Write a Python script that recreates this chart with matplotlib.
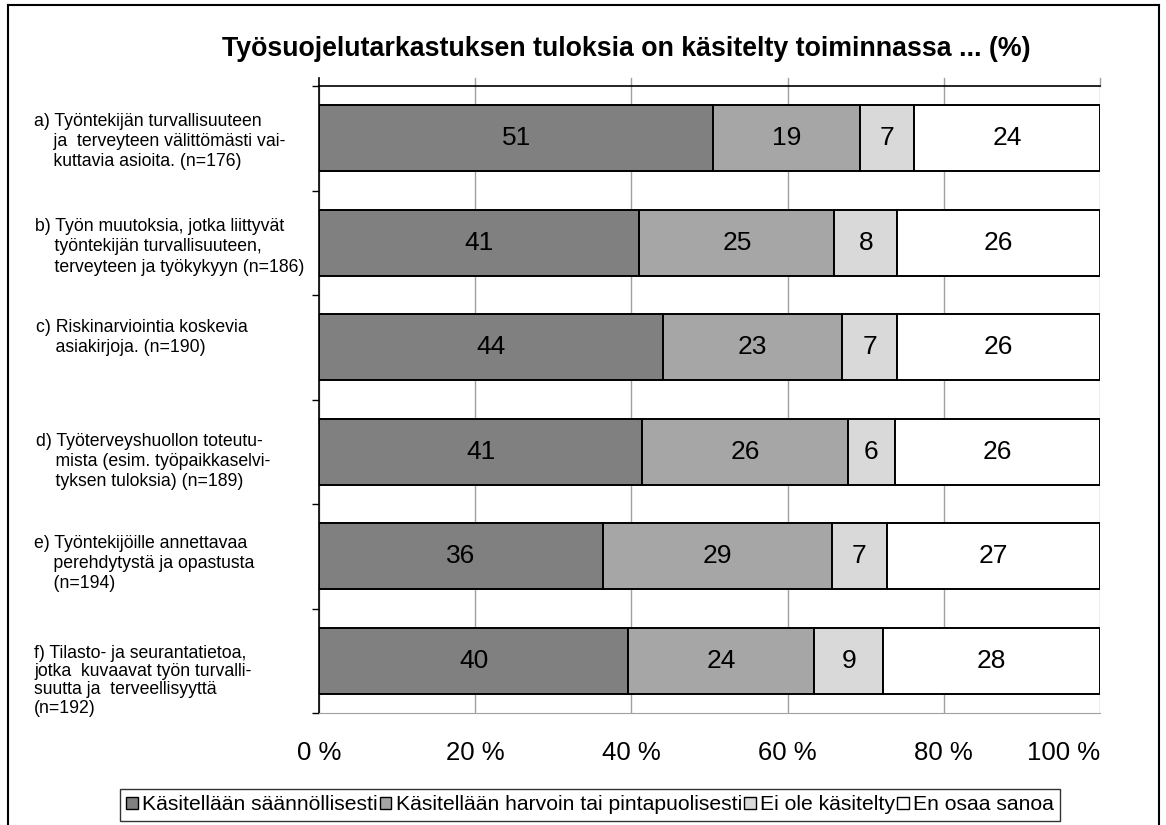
import numpy as np
import matplotlib
matplotlib.use("Agg")
import matplotlib.pyplot as plt
from matplotlib.patches import Patch
from matplotlib.lines import Line2D
from matplotlib.transforms import blended_transform_factory, offset_copy

plt.rcParams['font.family'] = ['Liberation Sans', 'DejaVu Sans']

# Data (%)
categories = [
    "a) Työntekijän turvallisuuteen\n    ja  terveyteen välittömästi vai-\n    kuttavia asioita. (n=176)",
    "b) Työn muutoksia, jotka liittyvät\n    työntekijän turvallisuuteen,\n    terveyteen ja työkykyyn (n=186)",
    "c) Riskinarviointia koskevia\n    asiakirjoja. (n=190)",
    "d) Työterveyshuollon toteutu-\n    mista (esim. työpaikkaselvi-\n    tyksen tuloksia) (n=189)",
    "e) Työntekijöille annettavaa\n    perehdytystä ja opastusta\n    (n=194)",
    "f) Tilasto- ja seurantatietoa,\njotka  kuvaavat työn turvalli-\nsuutta ja  terveellisyyttä\n(n=192)",
]
label_x = [34, 35, 36, 36, 34, 34]
label_dy = [3, 4, -10, 10, 7, 20]       # pixel shift downwards, as in the original
label_ls = [1.25, 1.25, 1.25, 1.25, 1.25, 1.1]
saannollisesti = [51, 41, 44, 41, 36, 40]
harvoin = [19, 25, 23, 26, 29, 24]
ei_kasitelty = [7, 8, 7, 6, 7, 9]
en_osaa = [24, 26, 26, 26, 27, 28]
series_names = ["Käsitellään säännöllisesti", "Käsitellään harvoin tai pintapuolisesti",
                "Ei ole käsitelty", "En osaa sanoa"]
colors = ["#808080", "#a6a6a6", "#d9d9d9", "#ffffff"]
xticks = [0, 20, 40, 60, 80, 100]

W, H = 1166, 825
fig = plt.figure(figsize=(W / 100, H / 100), dpi=100)
ax = fig.add_axes([319 / W, 1 - 713 / H, 781 / W, 627 / H])

data = np.array([saannollisesti, harvoin, ei_kasitelty, en_osaa], dtype=float)
shares = data / data.sum(axis=0) * 100  # 100 % stacked
y = np.arange(len(categories))
left = np.zeros(len(categories))
for i in range(len(series_names)):
    ax.barh(y, shares[i], left=left, height=0.63, color=colors[i],
            edgecolor="black", linewidth=1.4, zorder=3)
    for j in range(len(categories)):
        ax.text(left[j] + shares[i][j] / 2, y[j], str(int(data[i][j])),
                ha="center", va="center", fontsize=19, zorder=4)
    left += shares[i]

ax.set_xlim(0, 100)
ax.set_ylim(len(categories) - 0.5, -0.5)
ax.set_xticks(xticks)
ax.set_xticklabels([f"{t} %" for t in xticks], fontsize=18.5)
ax.get_xticklabels()[-1].set_horizontalalignment("right")
ax.tick_params(axis="x", length=0, pad=20)
ax.set_yticks(np.arange(-0.5, len(categories), 1.0))
ax.set_yticklabels([])
ax.tick_params(axis="y", direction="out", length=5, width=1)
ax.grid(axis="x", color="#a0a0a0", linewidth=1, zorder=0)
ax.spines["right"].set_visible(False)
ax.spines["bottom"].set_color("#a0a0a0")
ax.spines["left"].set_linewidth(1.2)
ax.spines["top"].set_linewidth(1.2)

# gridlines and axis poke slightly above the top border
for t in xticks:
    ax.plot([t, t], [-0.5, -0.58], color="black" if t == 0 else "#a0a0a0",
            linewidth=1.2 if t == 0 else 1, clip_on=False, zorder=2)

trans = blended_transform_factory(fig.transFigure, ax.transData)
for j, lab in enumerate(categories):
    tr = offset_copy(trans, fig=fig, y=-label_dy[j], units="dots")
    ax.text(label_x[j] / W, y[j], lab, transform=tr, ha="left", va="center",
            fontsize=12.7, linespacing=label_ls[j], multialignment="left")

fig.text(626 / W, 1 - 49 / H, "Työsuojelutarkastuksen tuloksia on käsitelty toiminnassa ... (%)",
         ha="center", va="center", fontsize=19.3, fontweight="bold")

handles = [Patch(facecolor=c, edgecolor="black", linewidth=1) for c in colors]
leg = fig.legend(handles, series_names, loc="center", bbox_to_anchor=(590 / W, 1 - 805 / H),
                 ncol=4, fontsize=15.2, frameon=True, fancybox=False, edgecolor="black",
                 handlelength=0.55, handleheight=0.55, handletextpad=0.2, columnspacing=0.1,
                 borderpad=0.3, borderaxespad=0)
leg.get_frame().set_linewidth(1)

# outer chart border (bottom edge lies below the image)
fig.add_artist(Line2D([8 / W, 8 / W], [0, 1 - 5 / H], color="black", linewidth=1.5))
fig.add_artist(Line2D([8 / W, 1159 / W], [1 - 5 / H, 1 - 5 / H], color="black", linewidth=1.5))
fig.add_artist(Line2D([1159 / W, 1159 / W], [0, 1 - 5 / H], color="black", linewidth=1.5))

fig.savefig("out.png", dpi=100)
